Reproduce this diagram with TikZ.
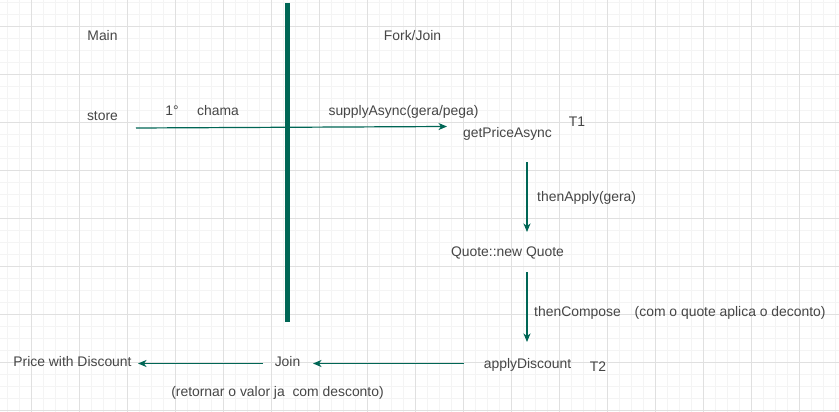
\documentclass[tikz,border=0pt]{standalone}
\usepackage{fontspec}
\setmainfont{Liberation Sans}
\usetikzlibrary{arrows.meta}
\definecolor{flow}{RGB}{0,102,85}
\definecolor{txt}{RGB}{70,70,70}
\definecolor{gridmajor}{RGB}{224,224,224}
\definecolor{gridminor}{RGB}{244,244,244}
\tikzset{
 lbl/.style={text=txt, font=\fontsize{13.9}{16}\selectfont, inner sep=0pt, anchor=base},
 flowarrow/.style={flow, line width=1.2pt, -{Stealth[length=8.5pt,width=7pt,inset=2.5pt]}},
}

\begin{document}
\begin{tikzpicture} [x=1pt,y=-1pt]
\useasboundingbox (0,0) rectangle (839,412);
\fill[white] (0,0) rectangle (839,412);
% grid
\foreach \x in {7.7,19.7,...,839} {
 \draw[gridminor, line width=0.8pt] (\x,0) -- (\x,412);
}
\foreach \y in {2,14,...,412} {
 \draw[gridminor, line width=0.8pt] (0,\y) -- (839,\y);
}
\foreach \x in {31.7,79.7,...,839} {
 \draw[gridmajor, line width=0.8pt] (\x,0) -- (\x,412);
}
\foreach \y in {26,74,...,412} {
 \draw[gridmajor, line width=0.8pt] (0,\y) -- (839,\y);
}
% divider
\draw[flow, line width=5pt] (287.5,3) -- (287.5,322);

\node[lbl] (main) at (102.5,41) {Main};
\node[lbl] (forkjoin) at (412.5,41) {Fork/Join};
\node[lbl] (store) at (102.5,121) {store};
\node[lbl] (first) at (172,116) {1°};
\node[lbl] (chama) at (218,116) {chama};
\node[lbl] (supply) at (403.5,116) {supplyAsync(gera/pega)};
\node[lbl] (getprice) at (507.5,137) {getPriceAsync};
\node[lbl] (tone) at (577,126) {T1};
\node[lbl, anchor=base west] (thenapply) at (537,201) {thenApply(gera)};
\node[lbl] (quote) at (507.5,256) {Quote::new Quote};
\node[lbl, anchor=base west] (thencompose) at (534,316) {thenCompose\hspace{14pt}(com o quote aplica o deconto)};
\node[lbl] (apply) at (527.5,368) {applyDiscount};
\node[lbl] (ttwo) at (598,371) {T2};
\node[lbl] (join) at (287.5,366.5) {Join};
\node[lbl] (price) at (72.5,366.5) {Price with Discount};
\node[lbl] (retornar) at (277.5,396.5) {(retornar o valor ja\ \ com desconto)};

\coordinate (storeout) at (136,128);
\coordinate (getpricein) at (447,126.5);
\coordinate (getpriceout) at (527,162);
\coordinate (quotein) at (527,232);
\coordinate (quoteout) at (527,272);
\coordinate (applyin) at (527,342);
\coordinate (applyout) at (464,363.5);
\coordinate (joinin) at (313,363.5);
\coordinate (joinout) at (263,363.5);
\coordinate (pricein) at (138,363.5);

\draw[flowarrow] (storeout) -- (getpricein);
\draw[flowarrow] (getpriceout) -- (quotein);
\draw[flowarrow] (quoteout) -- (applyin);
\draw[flowarrow] (applyout) -- (joinin);
\draw[flowarrow] (joinout) -- (pricein);
\end{tikzpicture}
\end{document}
